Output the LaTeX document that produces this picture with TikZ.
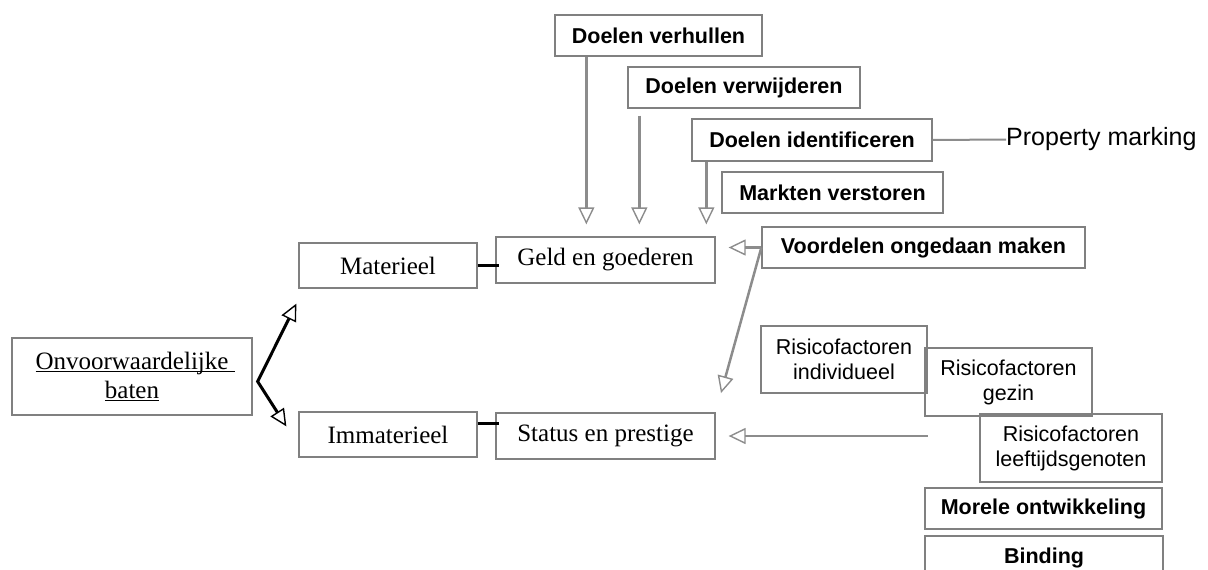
\documentclass[tikz,border=0pt]{standalone}
\usepackage{fontspec}
\setmainfont{Liberation Serif}
\setsansfont{Liberation Sans}
\usetikzlibrary{arrows.meta}

\definecolor{boxgray}{RGB}{128,128,128}
\definecolor{linegray}{RGB}{140,140,140}

\newlength\ulwidth
\newcommand\ulword[1]{\settowidth\ulwidth{#1}\rlap{\rule[-3pt]{\ulwidth}{1.3pt}}#1}

\tikzset{
	opentip/.tip={Triangle[open,length=17pt,width=16pt,line width=1.4pt]},
	plainbox/.style={draw=boxgray, line width=1.3pt, inner sep=0pt, align=center},
	serifbox/.style={plainbox, font=\fontsize{25}{29}\selectfont},
	sansbox/.style={plainbox, font=\sffamily\bfseries\fontsize{21.5}{25}\selectfont},
	riskbox/.style={plainbox, font=\sffamily\fontsize{21.5}{25}\selectfont},
	grayarrow/.style={draw=linegray, line width=2.5pt, -opentip},
	blackline/.style={line width=2.5pt}
}

\begin{document}
\begin{tikzpicture}[x=1pt,y=-1pt]

	\useasboundingbox (0,0) rectangle (1208,570);
	\clip (0,0) rectangle (1208,570);

	% left side
	\node (baten)[serifbox, minimum width=240pt, minimum height=77pt] at (132,376.5) {\ulword{Onvoorwaardelijke\ }\\\ulword{baten}};
	\node (mat)[serifbox, minimum width=178pt, minimum height=45pt] at (388,265.5) {Materieel};
	\node (immat)[serifbox, minimum width=178pt, minimum height=45pt] at (388,434.5) {Immaterieel};
	\node (geld)[serifbox, minimum width=219pt, minimum height=46pt] at (605.5,260) {Geld en goederen};
	\node (status)[serifbox, minimum width=219pt, minimum height=46pt] at (605.5,436) {Status en prestige};

	% top boxes
	\node (verhullen)[sansbox, minimum width=207pt, minimum height=41pt] at (658.5,35.5) {Doelen verhullen};
	\node (verwijderen)[sansbox, minimum width=232pt, minimum height=41pt] at (744,87.5) {Doelen verwijderen};
	\node (ident)[sansbox, minimum width=240pt, minimum height=42pt] at (812,140) {Doelen identificeren};
	\node (markten)[sansbox, minimum width=221pt, minimum height=41pt] at (832.5,192.5) {Markten verstoren};
	\node (voordelen)[sansbox, minimum width=323pt, minimum height=41pt] at (923.5,247.5) {Voordelen ongedaan maken};
	\node (prop)[anchor=west, inner sep=0pt, font=\sffamily\fontsize{25}{29}\selectfont] at (1006,139.5) {Property marking};

	% risk boxes
	\node (rindiv)[riskbox, minimum width=166pt, minimum height=67pt] at (844,359.5) {Risicofactoren\\individueel};
	\node (rgezin)[riskbox, minimum width=167pt, minimum height=68pt] at (1008.5,382) {Risicofactoren\\gezin};
	\node (rleeft)[riskbox, minimum width=182pt, minimum height=68pt] at (1071,448) {Risicofactoren\\leeftijdsgenoten};
	\node (morele)[sansbox, minimum width=237pt, minimum height=41pt] at (1043.5,508.5) {Morele ontwikkeling};
	\node (binding)[sansbox, minimum width=238pt, minimum height=44pt] at (1044,558) {Binding};

	% fork
	\coordinate (fork) at ([xshift=5pt,yshift=-5pt]baten.east);
	\coordinate (mattip) at ([xshift=-2pt,yshift=-15pt]mat.south west);
	\coordinate (immtip) at ([xshift=-12pt,yshift=-15pt]immat.north west);
	\draw[line width=3pt, {opentip}-{opentip}] (mattip) -- (fork) -- (immtip);

	% links
	\draw[blackline, shorten >=-4pt] (mat.east) -- (mat.east -| geld.west);
	\coordinate (immlink) at ([yshift=11pt]immat.east);
	\draw[blackline, shorten >=-4pt] (immlink) -- (immlink -| status.west);

	% down arrows
	\coordinate (hulstart) at ([xshift=32pt]verhullen.south west);
	\coordinate (wijstart) at ([xshift=12pt,yshift=-7pt]verwijderen.south west);
	\coordinate (idstart) at ([xshift=15pt]ident.south west);
	\draw[grayarrow, shorten >=12pt] (hulstart) -- (hulstart |- geld.north);
	\draw[grayarrow, shorten >=12pt] (wijstart) -- (wijstart |- geld.north);
	\draw[grayarrow, shorten >=12pt] (idstart) -- (idstart |- geld.north);

	% side arrows
	\draw[grayarrow, shorten >=13pt] (voordelen.west) -- (voordelen.west -| geld.east);
	\draw[grayarrow, shorten >=20pt] (voordelen.west) -- (status.north east);
	\coordinate (riskfree) at (status.east -| rindiv.east);
	\draw[grayarrow, shorten >=13pt] (riskfree) -- (status.east);
	\draw[draw=linegray, line width=2pt] (ident.east) -- (prop.west);

\end{tikzpicture}
\end{document}
